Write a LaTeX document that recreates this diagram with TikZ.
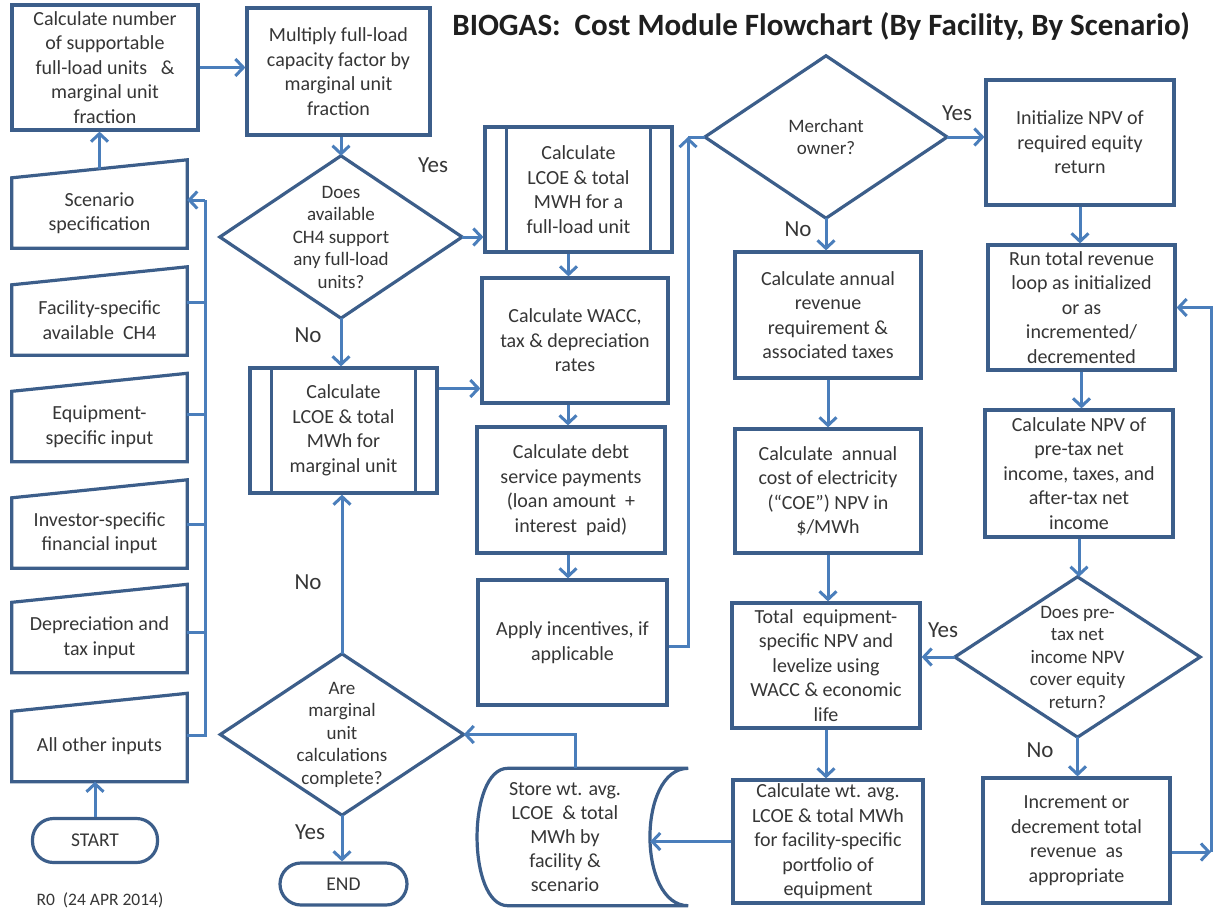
\documentclass[tikz,border=0pt]{standalone}
\usepackage{fontspec}
\setmainfont{Carlito}
\usetikzlibrary{arrows.meta}

\definecolor{boxblue}{HTML}{3C5E8A}
\definecolor{arrblue}{HTML}{4A7EBB}
\definecolor{txtgray}{HTML}{363636}

\begin{document}
\begin{tikzpicture}[
   x=1pt,y=-1pt,
   every node/.style={text=txtgray,align=center,inner sep=0pt},
   proc/.style={draw=boxblue,line width=3.2pt,minimum width=187pt,minimum height=125pt,font=\fontsize{20}{24.5}\selectfont},
   inbox/.style={minimum width=175pt,minimum height=70pt,font=\fontsize{20}{24.5}\selectfont},
   dec/.style={minimum width=242pt,minimum height=162pt,font=\fontsize{19}{22.5}\selectfont},
   term/.style={draw=boxblue,line width=3.2pt,rounded corners=21pt,minimum width=125pt,minimum height=44pt,font=\fontsize{19.5}{24}\selectfont},
   lbl/.style={font=\fontsize{23}{27}\selectfont},
   note/.style={font=\fontsize{17.5}{21}\selectfont},
   title/.style={text=black!88,font=\fontsize{31}{36}\selectfont\bfseries},
   boxline/.style={draw=boxblue,line width=3.2pt,line join=miter},
   conn/.style={draw=arrblue,line width=3pt},
   flow/.style={conn,-{Straight Barb[length=8pt,width=17pt]}}]
\fill[white] (0,0) rectangle (1217,913);
\useasboundingbox (0,0) rectangle (1217,913);

\node[title] (ttl) at (821,26) {BIOGAS:\ \ Cost Module Flowchart (By Facility, By Scenario)};

% inputs
\node[inbox] (scen) at (99.5,213) {Scenario\\specification};
\node[inbox] (facil) at (99.5,320) {Facility-specific\\available\ \ CH4};
\node[inbox] (equip) at (99.5,426.5) {Equipment-\\specific input};
\node[inbox] (invest) at (99.5,533) {Investor-specific\\financial input};
\node[inbox] (deprec) at (99.5,637.5) {Depreciation and\\tax input};
\node[inbox] (other) at (99.5,746.5) {All other\ inputs};
\node[term] (start) at (95,840.5) {START};
\node[note] (rev) at (100,900) {R0\ \ (24 APR 2014)};
\coordinate (bustop) at (205,200);

\node[proc,minimum width=186pt] (calcnum) at (105,67.5) {Calculate number\\of supportable\\full-load units\ \ \ \&\\marginal unit\\fraction};
\node[proc,minimum width=183pt,minimum height=127pt] (multiply) at (338.5,71.5) {Multiply full-load\\capacity factor by\\marginal unit\\fraction};
\node[dec] (enough) at (341,237) {Does\\available\\CH4 support\\any full-load\\units?};
\node[proc] (margunit) at (343.5,430.5) {Calculate\\LCOE \& total\\MWh for\\marginal unit};
\node[dec,minimum width=243pt,minimum height=161pt] (done) at (342,734.5) {Are\\marginal\\unit\\calculations\\complete?};
\node[term,minimum width=127pt,minimum height=42pt] (finish) at (343.5,884) {END};

\node[proc] (fullunit) at (578.5,189.5) {Calculate\\LCOE \& total\\MWH for a\\full-load unit};
\node[proc,minimum width=186pt] (wacc) at (575,340.5) {Calculate WACC,\\tax \& depreciation\\rates};
\node[proc,minimum width=188pt,minimum height=126pt] (debt) at (571,490) {Calculate debt\\service payments\\(loan amount\ \ +\\interest\ \ paid)};
\node[proc,minimum width=189pt] (apply) at (572.5,642.5) {Apply incentives, if\\applicable};
\node[inbox,minimum width=170pt,minimum height=137pt,font=\fontsize{20}{24}\selectfont] (store) at (565,837) {Store wt. avg.\\LCOE\ \ \& total\\MWh by\\facility \&\\scenario};
\coordinate (upturn) at (688,137);

\node[dec] (merchant) at (826,137) {Merchant\\owner?};
\node[proc,minimum width=186pt,minimum height=126pt] (annrev) at (828,315) {Calculate annual\\revenue\\requirement \&\\associated taxes};
\node[proc,minimum width=186pt,minimum height=124pt] (cost) at (828,491) {Calculate\ \ annual\\cost of electricity\\(“COE”) NPV in\\\$/MWh};
\node[proc,minimum width=188pt] (total) at (826,665.5) {Total\ \ equipment-\\specific NPV and\\levelize using\\WACC \& economic\\life};
\node[proc,minimum width=190pt,minimum height=123pt] (wtavg) at (828,841.5) {Calculate wt. avg.\\LCOE \& total MWh\\for facility-specific\\portfolio of\\equipment};

\node[proc,minimum width=188pt] (init) at (1080,142.5) {Initialize NPV of\\required equity\\return};
\node[proc] (run) at (1081.5,307.5) {Run total revenue\\loop as initialized\\or as\\incremented/\\decremented};
\node[proc,minimum width=188pt,minimum height=127pt] (npv) at (1079,473.5) {Calculate NPV of\\pre-tax net\\income, taxes, and\\after-tax net\\income};
\node[dec,minimum width=245pt,minimum height=160pt] (cover) at (1077.5,657) {Does pre-\\tax net\\income NPV\\cover equity\\return?};
\node[proc] (incr) at (1076.5,840.5) {Increment or\\decrement total\\revenue\ \ as\\appropriate};
\coordinate (loopbot) at (1211,852);

% outlines
\foreach \n in {scen,facil,equip,invest,deprec,other}
  \draw[boxline] (\n.south west) -- (\n.south east) -- ([yshift=18pt]\n.north east) -- (\n.north west) -- cycle;
\foreach \n in {fullunit,margunit}
  \draw[boxline] ([xshift=23pt]\n.north west) -- ([xshift=23pt]\n.south west) ([xshift=-23pt]\n.north east) -- ([xshift=-23pt]\n.south east);
\foreach \n in {enough,done,merchant,cover}
  \draw[boxline] (\n.north) -- (\n.east) -- (\n.south) -- (\n.west) -- cycle;
\draw[boxline] ([xshift=28pt]store.north west) -- ([xshift=38pt]store.north east)
  .. controls ([xshift=-13pt]store.north east) and ([xshift=-13pt]store.south east) .. ([xshift=38pt]store.south east)
  -- ([xshift=28pt]store.south west)
  .. controls ([xshift=-13pt]store.south west) and ([xshift=-13pt]store.north west) .. ([xshift=28pt]store.north west) -- cycle;

% labels
\node[lbl] (yes1) at (433,165) {Yes};
\node[lbl] (no1) at (308,335) {No};
\node[lbl] (no2) at (308,582) {No};
\node[lbl] (yes2) at (310,832) {Yes};
\node[lbl] (yes3) at (957,113) {Yes};
\node[lbl] (no3) at (798,229) {No};
\node[lbl] (yes4) at (943,630) {Yes};
\node[lbl] (no4) at (1040,750) {No};

% connectors
\draw[flow] (start.north) -- (start.north |- other.south);
\draw[conn] ([yshift=11pt]other.east) -| (bustop);
\draw[conn] ([yshift=5pt]deprec.east) -| (bustop);
\draw[conn] ([yshift=9pt]invest.east) -| (bustop);
\draw[conn] ([yshift=12pt]equip.east) -| (bustop);
\draw[conn] ([yshift=18pt]facil.east) -| (bustop);
\draw[flow] (bustop) -- (bustop -| scen.east);
\draw[flow] ([yshift=9pt]scen.north) -- (scen.north |- calcnum.south);
\draw[flow] (calcnum.east) -- (calcnum.east -| multiply.west);
\draw[flow] (enough.north |- multiply.south) -- (enough.north);
\draw[flow] (enough.east) -- (enough.east -| fullunit.west);
\draw[flow] (enough.south) -- (enough.south |- margunit.north);
\draw[flow] ([yshift=42pt]margunit.east) -- ([yshift=42pt]wacc.west |- margunit.east);
\draw[flow] ([xshift=-10pt]fullunit.south) -- ([xshift=-10pt]fullunit.south |- wacc.north);
\draw[flow] ([xshift=-7pt]wacc.south) -- ([xshift=-7pt]wacc.south |- debt.north);
\draw[flow] ([xshift=-3pt]debt.south) -- ([xshift=-3pt]debt.south |- apply.north);
\draw[flow] ([yshift=-4pt]apply.east) -| (upturn);
\draw[conn] (upturn) -- (merchant.west);
\draw[flow] (merchant.east) -- (merchant.east -| init.west);
\draw[flow] (merchant.south) -- (merchant.south |- annrev.north);
\draw[flow] (annrev.south) -- (cost.north);
\draw[flow] (cost.south) -- (cost.south |- total.north);
\draw[flow] (total.south) -- (total.south |- wtavg.north);
\draw[flow] (wtavg.west) -- (wtavg.west -| store.east);
\draw[flow] ([xshift=10pt]store.north) |- (done.east);
\draw[flow] (done.south) -- (done.south |- finish.north);
\draw[flow] (done.north) -- (done.north |- margunit.south);
\draw[flow] (init.south) -- (init.south |- run.north);
\draw[flow] (run.south) -- (run.south |- npv.north);
\draw[flow] (npv.south) -- (npv.south |- cover.north);
\draw[flow] (cover.west) -- (cover.west -| total.east);
\draw[flow] (cover.south) -- (cover.south |- incr.north);
\draw[flow] (incr.east |- loopbot) -- (loopbot);
\draw[flow] (loopbot) |- (run.east);
\end{tikzpicture}
\end{document}
